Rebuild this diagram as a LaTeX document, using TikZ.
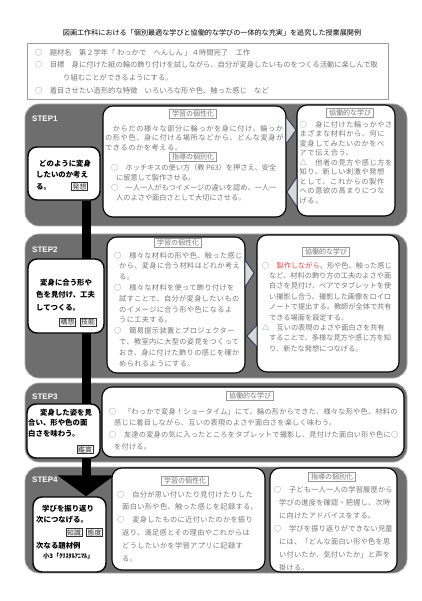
\documentclass[tikz,border=0pt]{standalone}
\usepackage{fontspec}
\usetikzlibrary{arrows.meta}
\newfontfamily\jp{Noto Sans CJK JP}
\newfontfamily\jpa{Noto Sans CJK JP}[LetterSpace=8]
\newfontfamily\jpb{Noto Sans CJK JP}[LetterSpace=8]
\newfontfamily\jpc{Noto Sans CJK JP}[LetterSpace=5]
\newfontfamily\jpd{Noto Sans CJK JP}[LetterSpace=3]
\newfontfamily\stepf{Liberation Sans}
\definecolor{panel}{RGB}{110,110,110}
\definecolor{txt}{RGB}{120,120,120}
\definecolor{tri}{RGB}{40,50,85}
\definecolor{redtxt}{RGB}{232,72,72}
\newcommand\ind{\hspace*{5pt}}
\newcommand\indb{\hspace*{7pt}}
\pgfdeclarelayer{back}
\pgfdeclarelayer{mid}
\pgfsetlayers{back,mid,main}
\begin{document}
\begin{tikzpicture}[x=1pt,y=-1pt,
  panelbox/.style={fill=panel, draw=gray!65, line width=0.8pt, rounded corners=14pt, inner sep=0pt},
  wbox/.style={fill=white, draw=black, line width=1.1pt, rounded corners=10pt, inner sep=0pt},
  lbox/.style={fill=white, draw=black, line width=1.4pt, rounded corners=9pt, inner sep=0pt},
  tagg/.style={draw=gray!80, fill=white, text=txt, line width=0.6pt, inner xsep=2.5pt, inner ysep=1.3pt, font=\jp\fontsize{7}{7}\selectfont},
  tagk/.style={draw=black!80, fill=gray!6, text=black!80, line width=0.5pt, inner xsep=1pt, inner ysep=1pt, font=\jp\fontsize{6.8}{6.8}\selectfont},
  body/.style={anchor=north west, inner sep=0pt, align=left, text=txt},
  ltext/.style={anchor=north west, inner sep=0pt, align=left, text=black},
  steplabel/.style={anchor=west, inner sep=0pt, text=white, font=\stepf\bfseries\fontsize{8}{8}\selectfont},
  chevron/.style={fill=gray!30, draw=tri, line width=0.8pt, line join=miter}
]
\useasboundingbox (0,0) rectangle (422,601);
\begin{pgfonlayer}{back}
\fill[white] (0,0) rectangle (422,601);
\node[panelbox, minimum width=382pt, minimum height=122pt] (p1) at (216,165) {};
\node[panelbox, minimum width=382pt, minimum height=144pt] (p2) at (216,306) {};
\node[panelbox, minimum width=382pt, minimum height=79pt] (p3) at (216,422.5) {};
\node[panelbox, minimum width=382pt, minimum height=106pt] (p4) at (216,520) {};
\end{pgfonlayer}

% title and header
\node[inner sep=0pt, text=black, font=\jp\fontsize{7.1}{7.1}\selectfont] (title) at (212,33) {図画工作科における「個別最適な学びと協働的な学びの一体的な充実」を追究した授業展開例};
\node[draw=gray!75, line width=0.9pt, minimum width=361pt, minimum height=56pt, inner sep=0pt] (hdrbox) at (207.5,71) {};
\node[body, font=\jp\fontsize{7.3}{12.7}\selectfont] (hdrtext) at (35,48.8) {○　題材名　第２学年「 わっかで　へんしん 」４時間完了　工作\\○　目標　身に付けた紙の輪の飾り付けを試しながら、自分が変身したいものをつくる活動に楽しんで取\\\hspace*{28pt}り組むことができるようにする。\\○　着目させたい造形的な特徴　いろいろな形や色、触った感じ　など};

% step labels
\node[steplabel] (s1) at (32,119) {STEP1};
\node[steplabel] (s2) at (32,250) {STEP2};
\node[steplabel] (s3) at (32,397) {STEP3};
\node[steplabel] (s4) at (32,480) {STEP4};

% boxes
\node[lbox, minimum width=72pt, minimum height=53pt] (l1) at (64,173.5) {};
\node[lbox, minimum width=76pt, minimum height=74pt] (l2) at (66,296) {};
\node[lbox, minimum width=73pt, minimum height=54pt] (l3) at (63.5,431) {};
\node[lbox, minimum width=73pt, minimum height=75pt] (l4) at (69.5,534.5) {};

\node[wbox, minimum width=183pt, minimum height=111pt] (m1) at (194.5,161.5) {};
\node[wbox, minimum width=98pt, minimum height=111pt] (r1) at (346,160.5) {};
\node[wbox, minimum width=138pt, minimum height=136pt] (m2) at (176,305) {};
\node[wbox, minimum width=142pt, minimum height=137pt] (r2) at (328,303.5) {};
\node[wbox, minimum width=302pt, minimum height=70pt] (r3) at (253,422) {};
\node[wbox, minimum width=153pt, minimum height=102pt] (m4) at (188.5,519) {};
\node[wbox, minimum width=127pt, minimum height=104pt] (r4) at (333.5,520) {};

% black flow arrow
\coordinate (bx) at (86,0);
\begin{pgfonlayer}{mid}
\draw[line width=9pt, -{Triangle[width=56pt,length=21pt]}] (l1.south -| bx) -- (l4.north -| bx);
\end{pgfonlayer}

% chevrons
\draw[chevron] (286,117) -- (296,130) -- (286,144) -- cycle;
\draw[chevron] (297,177) -- (287,192) -- (297,207) -- cycle;
\draw[chevron] (245,260) -- (254,273) -- (245,287) -- cycle;
\draw[chevron] (257,325) -- (247,336) -- (257,347) -- cycle;

% tags
\node[tagg] (t1) at (193,114) {学習の個性化};
\node[tagg] (t2) at (193,157) {指導の個別化};
\node[tagg] (t3) at (350,113) {協働的な学び};
\node[tagg] (t4) at (178,243) {学習の個性化};
\node[tagg] (t5) at (326,252) {協働的な学び};
\node[tagg] (t6) at (250,396) {協働的な学び};
\node[tagg] (t7) at (185,481) {学習の個性化};
\node[tagg] (t8) at (332,477) {指導の個別化};

% body texts
\node[body, font=\jpa\fontsize{7.2}{9.8}\selectfont] (m1a) at (105,124.8) {　からだの様々な部分に輪っかを身に付け、輪っか\\の形や色、身に付ける場所などから、どんな変身が\\できるのかを考える。};
\node[body, font=\jp\fontsize{7.2}{10}\selectfont] (m1b) at (111,163.8) {○　ホッチキスの使い方（教 P63）を押さえ、安全\\\ind に留意して製作させる。\\○　一人一人がもつイメージの違いを認め、一人一\\\ind 人のよさや面白さとして大切にさせる。};
\node[body, font=\jpb\fontsize{7.2}{9.5}\selectfont] (r1a) at (299.5,120.8) {○　身に付けた輪っかやさ\\まざまな材料から、何に\\変身してみたいのかをペ\\アで伝え合う。\\△　他者の見方や感じ方を\\知り、新しい刺激や発想\\として、これからの製作\\への意欲の高まりにつな\\げる。};
\node[body, font=\jpc\fontsize{7.2}{10.8}\selectfont] (m2a) at (114,251.8) {○　様々な材料の形や色、触った感じ\\\ind から、変身に合う材料はどれか考え\\\ind る。\\○　様々な材料を使って飾り付けを\\\ind 試すことで、自分が変身したいもの\\\ind のイメージに合う形や色になるよ\\\ind うに工夫する。\\○　簡易提示装置とプロジェクター\\\ind で、教室内に大型の姿見をつくって\\\ind おき、身に付けた飾りの感じを確か\\\ind められるようにする。};
\node[body, font=\jp\fontsize{7.2}{10.4}\selectfont] (r2a) at (262,261.8) {○　{\color{redtxt}製作しながら、}形や色、触った感じ\\\indb など、材料の飾り方の工夫のよさや面\\\indb 白さを見付け、ペアでタブレットを使\\\indb い撮影し合う。撮影した画像をロイロ\\\indb ノートで提出する。教師が全体で共有\\\indb できる場面を設定する。\\△　互いの表現のよさや面白さを共有\\\indb することで、多様な見方や感じ方を知\\\indb り、新たな発想につなげる。};
\node[body, font=\jpd\fontsize{7.2}{11.7}\selectfont] (r3a) at (109,407.8) {○　「わっかで変身！ショータイム」にて、輪の形からできた、様々な形や色、材料の\\\ind 感じに着目しながら、互いの表現のよさや面白さを楽しく味わう。\\○　友達の変身の気に入ったところをタブレットで撮影し、見付けた面白い形や色に○\\\ind を付ける。};
\node[body, font=\jpc\fontsize{7.2}{12.8}\selectfont] (m4a) at (117,490.8) {○　自分が思い付いたり見付けたりした\\\ind 面白い形や色、触った感じを記録する。\\○　変身したものに近付いたのかを振り\\\ind 返り、満足感とその理由やこれからは\\\ind どうしたいかを学習アプリに記録す\\\ind る。};
\node[body, font=\jpd\fontsize{7.2}{13}\selectfont] (r4a) at (274,485.8) {○　子ども一人一人の学習履歴から\\\ind 学びの進度を確認・把握し、次時\\\ind に向けたアドバイスをする。\\○　学びを振り返りができない児童\\\ind には、「どんな面白い形や色を思\\\ind い付いたか、気付いたか」と声を\\\ind 掛ける。};

% left box texts
\node[ltext, font=\jp\bfseries\fontsize{7.4}{11.5}\selectfont] (l1t) at (36,159.6) {\hspace*{3pt}どのように変身\\したいのか考え\\る。};
\node[tagk] (k1) at (79.5,186.5) {発想};
\node[ltext, font=\jp\bfseries\fontsize{7.4}{12.5}\selectfont] (l2t) at (36,278.6) {\hspace*{4pt}変身に合う形や\\色を見付け、工夫\\してつくる。};
\node[tagk] (k2) at (67.5,322) {構想};
\node[tagk] (k3) at (88,322) {技能};
\node[ltext, font=\jp\bfseries\fontsize{7.4}{10.8}\selectfont] (l3t) at (28,408.6) {\hspace*{12pt}変身した姿を見\\合い、形や色の面\\白さを味わう。};
\node[tagk] (k4) at (85,449.5) {鑑賞};
\node[ltext, font=\jp\bfseries\fontsize{7.4}{11}\selectfont] (l4t) at (36,504.6) {\hspace*{6pt}学びを振り返り\\次につなげる。};
\node[tagk] (k5) at (74,532.5) {知識};
\node[tagk] (k6) at (94.5,532.5) {態度};
\node[ltext, font=\jp\bfseries\fontsize{7.4}{7.4}\selectfont] (l4u) at (36,541.6) {次なる題材例};
\node[ltext, font=\jp\bfseries\fontsize{6.2}{6.2}\selectfont] (l4v) at (43,553) {小3「ｸﾘｽﾀﾙｱﾆﾏﾙ」};
\end{tikzpicture}
\end{document}
